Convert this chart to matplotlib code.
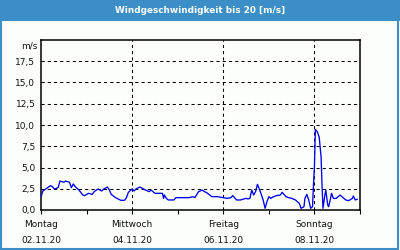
import matplotlib
matplotlib.use('Agg')
import matplotlib.pyplot as plt
from matplotlib.patches import Rectangle

# Stunden seit Montag 02.11.20 00:00 und Windgeschwindigkeit in m/s
hours = [0, 1, 3, 5, 6, 7, 9, 10, 12, 13, 15, 16, 17, 18, 20, 22, 23, 25, 27, 28,
         30, 32, 33, 35, 36, 37, 39, 42, 44, 45, 46, 48, 49, 50, 52, 54, 55, 57, 58, 60,
         61, 63, 64, 64.5, 65, 66, 67, 70, 71, 73, 78, 80, 81, 83, 85, 86, 87, 90, 93, 96,
         98, 100, 101, 103, 105, 108, 109, 110, 111, 112, 113, 114, 115.5, 117, 118, 119, 120, 121, 122.5, 124,
         126, 127, 129, 130.5, 132, 134, 136, 137, 138.5, 139, 140, 141, 142, 143, 143.5, 144, 144.5, 145.5, 146.5, 147.5,
         148, 148.5, 149.5, 150, 151, 151.5, 152.5, 153, 154, 155.5, 157.5, 158.5, 160.5, 162, 164, 164.5, 165.5, 166.5]
speed = [1.57, 2.24, 2.55, 2.86, 2.75, 2.47, 2.63, 3.41, 3.26, 3.41, 3.26, 2.63, 3.06, 2.75, 2.35, 1.76, 1.69, 1.96, 1.84, 2.16,
         2.47, 2.24, 2.47, 2.71, 2.35, 1.84, 1.49, 1.14, 1.14, 1.45, 2.08, 2.47, 2.24, 2.47, 2.71, 2.47, 2.35, 2.16, 2.35, 1.96,
         1.96, 1.96, 1.96, 1.37, 1.76, 1.37, 1.18, 1.18, 1.45, 1.45, 1.45, 1.57, 1.45, 2.16, 2.35, 2.16, 2.08, 1.57, 1.57, 1.45,
         1.37, 1.45, 1.69, 1.18, 1.18, 1.37, 1.30, 1.37, 2.35, 1.76, 2.16, 3.02, 2.16, 1.18, 0.2, 0.98, 1.57, 1.37, 1.57, 1.69,
         1.76, 2.08, 1.57, 1.45, 1.37, 1.18, 0.79, 0.2, 0.39, 1.37, 1.84, 1.18, 0.2, 0.39, 2.94, 5.1, 9.49, 9.2, 8.6, 6.27,
         2.94, 0.2, 1.76, 2.35, 0.59, 0.39, 1.37, 1.96, 1.37, 1.37, 1.76, 1.57, 1.18, 1.10, 1.37, 1.65, 1.18, 1.26]

day_names = ['Montag', '', 'Mittwoch', '', 'Freitag', '', 'Sonntag', '']
day_dates = ['02.11.20', '', '04.11.20', '', '06.11.20', '', '08.11.20', '']
y_ticks = [0, 2.5, 5, 7.5, 10, 12.5, 15, 17.5]

blue = '#3b8fc6'
fig = plt.figure(figsize=(4, 2.5), dpi=100, facecolor='#fcfefc')

# Titelleiste und Rahmen
fig.patches.append(Rectangle((0, 0.918), 1, 0.082, transform=fig.transFigure,
                             facecolor=blue, edgecolor='none', zorder=0))
fig.patches.append(Rectangle((0.0025, 0.004), 0.9925, 0.92, transform=fig.transFigure,
                             facecolor='none', edgecolor=blue, linewidth=1.5, zorder=0))
fig.text(0.5, 0.958, 'Windgeschwindigkeit bis 20 [m/s]', ha='center', va='center',
         color='white', fontsize=6.4, fontweight='bold')

ax = fig.add_axes([0.1025, 0.16, 0.7975, 0.68])
ax.set_facecolor('#fcfefc')
ax.plot(hours, speed, color='#0000f0', linewidth=0.95, zorder=3)

ax.set_xlim(0, 168)
ax.set_ylim(0, 20)

for y in y_ticks[1:]:
    ax.axhline(y, color='black', linewidth=0.75, linestyle=(0, (3, 3)), zorder=1)
for x in [48, 96, 144]:
    ax.axvline(x, color='black', linewidth=0.75, linestyle=(0, (3, 3)), zorder=1)

ax.set_yticks(y_ticks)
ax.set_yticklabels([('%.1f' % v).replace('.', ',') for v in y_ticks])
ax.tick_params(axis='y', length=0, pad=4, labelsize=6.5, colors='#111111')

ax.set_xticks([24 * i for i in range(8)])
ax.set_xticklabels([(n + '\n' + d) if n else '' for n, d in zip(day_names, day_dates)],
                   linespacing=2.0)
ax.tick_params(axis='x', length=3, width=0.8, pad=4, labelsize=6.5, colors='black',
               labelcolor='#111111')
ax.text(-0.012, 19.3, 'm/s', transform=ax.get_yaxis_transform(), ha='right', va='center',
        fontsize=6.5, color='#111111')

for s in ax.spines.values():
    s.set_linewidth(1.1)

fig.savefig('out.png', dpi=100, facecolor=fig.get_facecolor())
